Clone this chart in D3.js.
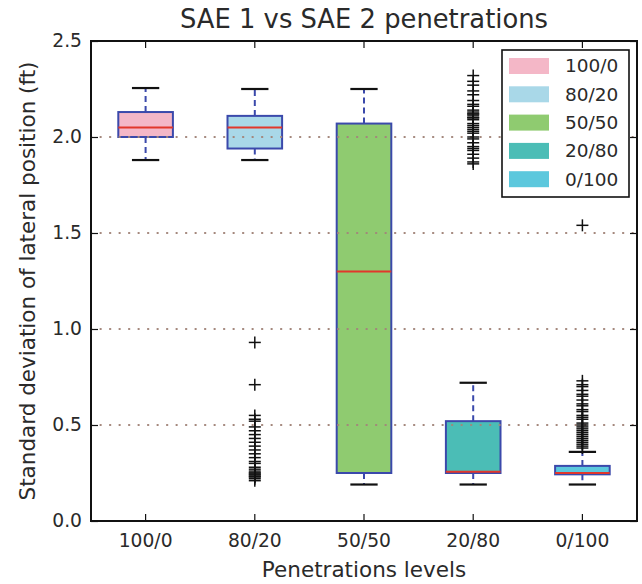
<!DOCTYPE html>
<html lang="en">
<head>
  <meta charset="UTF-8">
  <title>SAE 1 vs SAE 2 penetrations</title>
  <style>
    body { margin: 0; background: #fff; }
    svg { display: block; font-family: "DejaVu Sans", sans-serif; }
  </style>
</head>
<body>
  <script src="https://cdn.jsdelivr.net/npm/d3@7"></script>
  <script>
    // categories and box statistics
    let categories = ["100/0", "80/20", "50/50", "20/80", "0/100"];
    let q1 = [2.00, 1.94, 0.25, 0.25, 0.243];
    let median = [2.05, 2.05, 1.30, 0.256, 0.25];
    let q3 = [2.13, 2.11, 2.07, 0.52, 0.287];
    let whiskerLow = [1.88, 1.88, 0.19, 0.19, 0.19];
    let whiskerHigh = [2.255, 2.25, 2.25, 0.72, 0.36];
    let colors = ["#f4b7c7", "#a9d8e8", "#8fcb70", "#4bbdb6", "#5cc8dd"];

    // fliers per category
    let out1000 = [];
    let out8020 = [0.93, 0.71, 0.55, 0.53, 0.52, 0.49, 0.47, 0.45, 0.43, 0.41, 0.39, 0.37, 0.35,
      0.33, 0.31, 0.30, 0.28, 0.27, 0.26, 0.25, 0.25, 0.24, 0.24, 0.23, 0.23, 0.22, 0.21];
    let out5050 = [];
    let out2080 = [2.32, 2.29, 2.27, 2.24, 2.22, 2.19, 2.17, 2.16, 2.14, 2.13, 2.12, 2.12, 2.11,
      2.10, 2.10, 2.09, 2.07, 2.06, 2.05, 2.04, 2.03, 2.02, 2.00, 1.99, 1.97, 1.95, 1.94, 1.93,
      1.91, 1.89, 1.87, 1.86];
    let out0100 = [1.54, 0.73, 0.71, 0.70, 0.68, 0.66, 0.65, 0.63, 0.61, 0.60, 0.58, 0.57, 0.55,
      0.54, 0.53, 0.51, 0.50, 0.49, 0.48, 0.47, 0.46, 0.45, 0.44, 0.43, 0.42, 0.41, 0.40, 0.39, 0.38];
    let outliers = [out1000, out8020, out5050, out2080, out0100];

    let yTicks = [0.0, 0.5, 1.0, 1.5, 2.0, 2.5];
    let gridTicks = [0.5, 1.0, 1.5, 2.0];

    let width = 642, height = 584;
    let mLeft = 91, mRight = 637, mTop = 41, mBottom = 521;

    let boxBlue = "#3b49ab", medRed = "#e2372b", ink = "#2a2a2a";

    let svg = d3.select("body")
      .append("svg")
      .attr("width", width)
      .attr("height", height);

    let x = d3.scaleBand().domain(categories).range([mLeft, mRight]).padding(0);
    let y = d3.scaleLinear().domain([0, 2.5]).range([mBottom, mTop]);
    let bw = x.bandwidth() * 0.5;
    let cx = d => x(d) + x.bandwidth() / 2;

    let stats = categories.map((c, i) => ({
      c: c, q1: q1[i], med: median[i], q3: q3[i],
      lo: whiskerLow[i], hi: whiskerHigh[i], color: colors[i], out: outliers[i]
    }));

    let g = svg.append("g");

    // whiskers (dashed blue)
    g.selectAll(".whisk")
      .data(stats.flatMap(d => [[d.c, d.q3, d.hi], [d.c, d.q1, d.lo]]))
      .enter().append("line")
      .attr("x1", d => cx(d[0])).attr("x2", d => cx(d[0]))
      .attr("y1", d => y(d[1])).attr("y2", d => y(d[2]))
      .attr("stroke", boxBlue).attr("stroke-width", 2)
      .attr("stroke-dasharray", "6,4");

    // caps
    g.selectAll(".cap")
      .data(stats.flatMap(d => [[d.c, d.hi], [d.c, d.lo]]))
      .enter().append("line")
      .attr("x1", d => cx(d[0]) - bw / 4).attr("x2", d => cx(d[0]) + bw / 4)
      .attr("y1", d => y(d[1])).attr("y2", d => y(d[1]))
      .attr("stroke", "#111").attr("stroke-width", 2.2);

    // boxes
    g.selectAll(".box")
      .data(stats)
      .enter().append("rect")
      .attr("x", d => cx(d.c) - bw / 2)
      .attr("y", d => y(d.q3))
      .attr("width", bw)
      .attr("height", d => y(d.q1) - y(d.q3))
      .attr("fill", d => d.color)
      .attr("stroke", boxBlue).attr("stroke-width", 2);

    // medians
    g.selectAll(".med")
      .data(stats)
      .enter().append("line")
      .attr("x1", d => cx(d.c) - bw / 2).attr("x2", d => cx(d.c) + bw / 2)
      .attr("y1", d => y(d.med)).attr("y2", d => y(d.med))
      .attr("stroke", medRed).attr("stroke-width", 2);

    // dotted grid, on top of boxes
    svg.append("g").selectAll("line")
      .data(gridTicks)
      .enter().append("line")
      .attr("x1", mLeft).attr("x2", mRight)
      .attr("y1", d => y(d)).attr("y2", d => y(d))
      .attr("stroke", "#a3867b").attr("stroke-width", 2.2)
      .attr("stroke-linecap", "round")
      .attr("stroke-dasharray", "0.3,9.2");

    // fliers '+'
    let pts = stats.flatMap(d => d.out.map(v => [d.c, v]));
    let fl = svg.append("g").selectAll("g")
      .data(pts)
      .enter().append("g")
      .attr("transform", d => "translate(" + cx(d[0]) + "," + y(d[1]) + ")");
    fl.append("line").attr("x1", -6).attr("x2", 6).attr("stroke", "#111").attr("stroke-width", 1.5);
    fl.append("line").attr("y1", -6).attr("y2", 6).attr("stroke", "#111").attr("stroke-width", 1.5);

    // axes, ticks pointing inwards
    let axL = svg.append("g").attr("transform", "translate(" + mLeft + ",0)")
      .call(d3.axisLeft(y).tickValues(yTicks).tickFormat(d3.format(".1f")).tickSize(-7).tickPadding(9));
    let axR = svg.append("g").attr("transform", "translate(" + mRight + ",0)")
      .call(d3.axisRight(y).tickValues(yTicks).tickFormat("").tickSize(-7));
    let axB = svg.append("g").attr("transform", "translate(0," + mBottom + ")")
      .call(d3.axisBottom(x).tickSize(-7).tickPadding(13));
    let axT = svg.append("g").attr("transform", "translate(0," + mTop + ")")
      .call(d3.axisTop(x).tickSize(-7).tickFormat(""));

    [axL, axR, axB, axT].forEach(a => {
      a.select(".domain").remove();
      a.selectAll(".tick line").attr("stroke", "#111").attr("stroke-width", 1.2);
      a.selectAll("text").attr("font-size", "18.7px").attr("fill", ink)
        .attr("font-family", "DejaVu Sans");
    });

    svg.append("rect")
      .attr("x", mLeft).attr("y", mTop)
      .attr("width", mRight - mLeft).attr("height", mBottom - mTop)
      .attr("fill", "none").attr("stroke", "#111").attr("stroke-width", 2);

    // legend
    let lg = svg.append("g");
    lg.append("rect")
      .attr("x", 502).attr("y", 50).attr("width", 127).attr("height", 147)
      .attr("fill", "#fff").attr("stroke", "#111").attr("stroke-width", 1.6);
    let items = lg.selectAll(".item")
      .data(categories)
      .enter().append("g")
      .attr("transform", (d, i) => "translate(509," + (66 + 28.3 * i) + ")");
    items.append("rect")
      .attr("x", 0).attr("y", -8).attr("width", 40).attr("height", 16)
      .attr("fill", (d, i) => colors[i]);
    items.append("text")
      .attr("x", 56).attr("y", 0).attr("dy", "0.35em")
      .attr("font-size", "18.5px").attr("fill", ink)
      .text(d => d);

    // titles
    svg.append("text")
      .attr("x", (mLeft + mRight) / 2).attr("y", 28)
      .attr("text-anchor", "middle").attr("font-size", "25.8px").attr("fill", ink)
      .text("SAE 1 vs SAE 2 penetrations");
    svg.append("text")
      .attr("x", (mLeft + mRight) / 2).attr("y", 577)
      .attr("text-anchor", "middle").attr("font-size", "21.5px").attr("fill", ink)
      .text("Penetrations levels");
    svg.append("text")
      .attr("transform", "translate(35," + ((mTop + mBottom) / 2) + ") rotate(-90)")
      .attr("text-anchor", "middle").attr("font-size", "21.5px").attr("fill", ink)
      .text("Standard deviation of lateral position (ft)");
  </script>
</body>
</html>
